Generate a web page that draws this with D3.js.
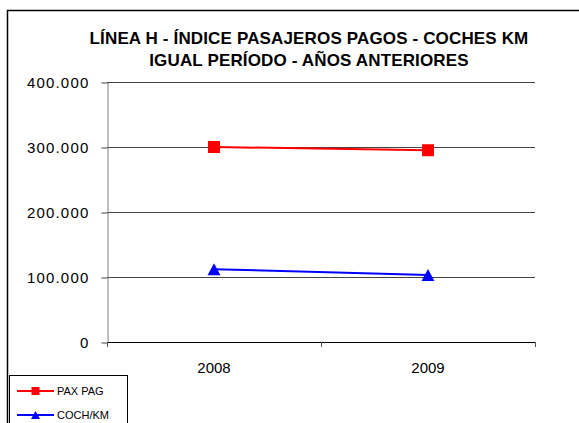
<!DOCTYPE html>
<html>
<head>
<meta charset="utf-8">
<script src="https://cdn.jsdelivr.net/npm/d3@7"></script>
<style>
  html, body { margin: 0; padding: 0; background: #fff; }
  svg { display: block; font-family: "Liberation Sans", Arial, sans-serif; }
</style>
</head>
<body>
<svg id="chart" width="579" height="423"></svg>
<script>
// Values.
var years = ['2008', '2009'];
var paxPag = [300000, 295000];
var cochKm = [112000, 103000];
var yTicks = [0, 100000, 200000, 300000, 400000];
var titleLines = ['LÍNEA H - ÍNDICE PASAJEROS PAGOS - COCHES KM', 'IGUAL PERÍODO - AÑOS ANTERIORES'];

var series = [
  { name: 'PAX PAG', values: paxPag, color: '#ff0000', marker: 'square' },
  { name: 'COCH/KM', values: cochKm, color: '#0000ff', marker: 'triangle' }
];

var svg = d3.select('#chart');

// Outer frame (runs off the right and bottom edges, like the original).
svg.append('rect')
  .attr('x', 7.5).attr('y', 10.5)
  .attr('width', 600).attr('height', 440)
  .attr('fill', '#fff').attr('stroke', '#000').attr('stroke-width', 1.5);

// Title.
svg.append('g').selectAll('text')
  .data(titleLines)
  .enter().append('text')
    .attr('x', 309)
    .attr('y', function(d, i) { return 44 + i * 22; })
    .attr('text-anchor', 'middle')
    .attr('font-size', 17)
    .attr('letter-spacing', 0.15)
    .attr('font-weight', 'bold')
    .text(function(d) { return d; });

var plotLeft = 107, plotRight = 535, plotTop = 82, plotBottom = 342;

var x = d3.scaleBand().domain(years).range([plotLeft, plotRight]);
var y = d3.scaleLinear().domain([0, 400000]).range([plotBottom, plotTop]);
var fmt = function(d) { return d === 0 ? '0' : d3.format(',.3f')(d / 1000).replace(',', '.'); };

// Gridlines.
svg.append('g').selectAll('line')
  .data(yTicks.filter(function(d) { return d > 0; }))
  .enter().append('line')
    .attr('x1', plotLeft).attr('x2', plotRight)
    .attr('y1', function(d) { return Math.round(y(d)) + 0.5; })
    .attr('y2', function(d) { return Math.round(y(d)) + 0.5; })
    .attr('stroke', '#444').attr('stroke-width', 1);

// Y axis.
var yAxis = svg.append('g')
  .attr('transform', 'translate(' + (plotLeft + 0.5) + ',0.5)')
  .call(d3.axisLeft(y).tickValues(yTicks).tickSize(6).tickSizeOuter(0).tickFormat(fmt).tickPadding(12));
yAxis.select('.domain').attr('stroke', '#808080');
yAxis.selectAll('.tick line').attr('stroke', '#444');
yAxis.selectAll('text')
  .attr('font-size', 15)
  .attr('letter-spacing', 1.2)
  .attr('font-family', '"Liberation Sans", Arial, sans-serif')
  .attr('fill', '#000');

// X axis: ticks sit on the category boundaries.
var boundaries = years.map(function(d) { return x(d); }).concat([plotRight]);
var xg = svg.append('g');
xg.append('line')
  .attr('x1', plotLeft).attr('x2', plotRight)
  .attr('y1', plotBottom + 0.5).attr('y2', plotBottom + 0.5)
  .attr('stroke', '#000').attr('stroke-width', 1.2);
xg.selectAll('.xt')
  .data(boundaries)
  .enter().append('line')
    .attr('x1', function(d) { return Math.round(d) + 0.5; })
    .attr('x2', function(d) { return Math.round(d) + 0.5; })
    .attr('y1', plotBottom).attr('y2', plotBottom + 5)
    .attr('stroke', '#555');
xg.selectAll('text')
  .data(years)
  .enter().append('text')
    .attr('x', function(d) { return x(d) + x.bandwidth() / 2; })
    .attr('y', 373)
    .attr('text-anchor', 'middle')
    .attr('font-size', 15)
    .text(function(d) { return d; });

// Lines and markers.
var line = d3.line()
  .x(function(d, i) { return x(years[i]) + x.bandwidth() / 2; })
  .y(function(d) { return y(d); });

function drawMarker(g, type, cx, cy, size, color) {
  if (type === 'square') {
    g.append('rect')
      .attr('x', cx - size / 2).attr('y', cy - size / 2)
      .attr('width', size).attr('height', size)
      .attr('fill', color);
  } else {
    var h = size;
    g.append('path')
      .attr('d', 'M' + cx + ',' + (cy - h / 2) + 'L' + (cx + h / 2 + 0.5) + ',' + (cy + h / 2) + 'L' + (cx - h / 2 - 0.5) + ',' + (cy + h / 2) + 'Z')
      .attr('fill', color);
  }
}

series.forEach(function(s) {
  var g = svg.append('g');
  g.append('path')
    .datum(s.values)
    .attr('d', line)
    .attr('fill', 'none')
    .attr('stroke', s.color)
    .attr('stroke-width', 2);
  s.values.forEach(function(v, i) {
    drawMarker(g, s.marker, x(years[i]) + x.bandwidth() / 2, y(v), 12, s.color);
  });
});

// Legend.
var legend = svg.append('g');
legend.append('rect')
  .attr('x', 9.5).attr('y', 375.5)
  .attr('width', 118).attr('height', 60)
  .attr('fill', '#fff').attr('stroke', '#000').attr('stroke-width', 1);
series.forEach(function(s, i) {
  var ly = 391 + i * 24;
  legend.append('line')
    .attr('x1', 17).attr('x2', 54)
    .attr('y1', ly).attr('y2', ly)
    .attr('stroke', s.color).attr('stroke-width', 2);
  drawMarker(legend, s.marker, 35.5, ly, 8, s.color);
  legend.append('text')
    .attr('x', 57).attr('y', ly + 4)
    .attr('font-size', 11)
    .text(s.name);
});
</script>
</body>
</html>
